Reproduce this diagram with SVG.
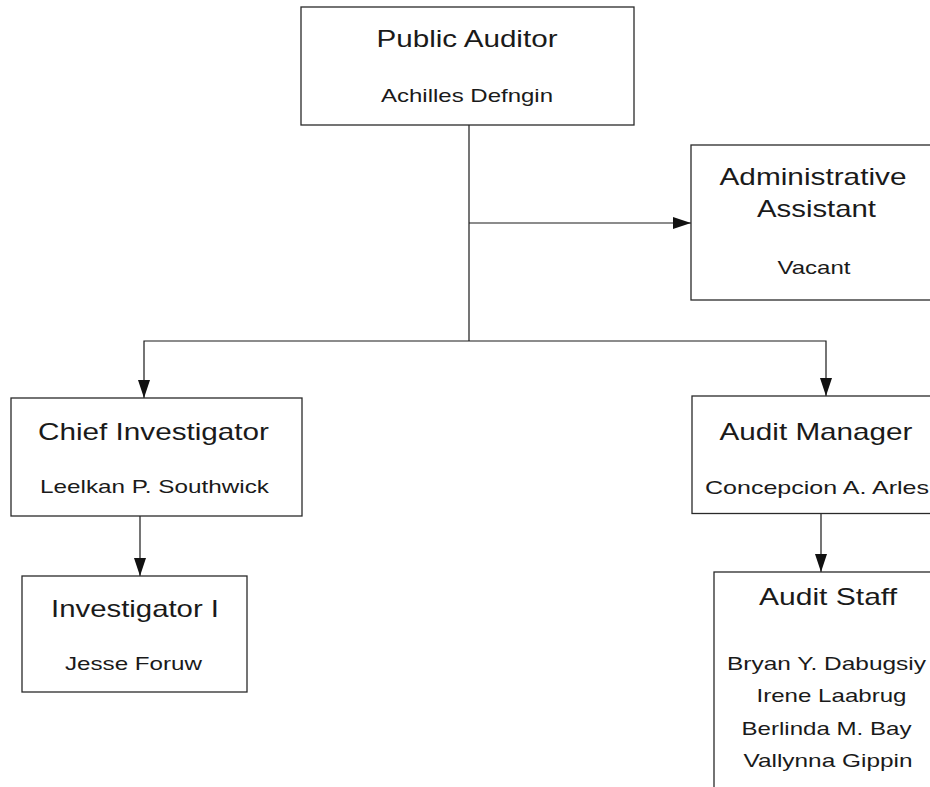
<svg xmlns="http://www.w3.org/2000/svg" width="930" height="787" viewBox="0 0 930 787">
<style>
  .box { fill: #ffffff; stroke: #2a2a2a; stroke-width: 1.3; }
  .conn { fill: none; stroke: #1a1a1a; stroke-width: 1.2; }
  .title { font-family: "Liberation Sans", Arial, sans-serif; font-size: 24px; fill: #1a1a1a; text-anchor: middle; }
  .name { font-family: "Liberation Sans", Arial, sans-serif; font-size: 19px; fill: #1a1a1a; text-anchor: middle; }
</style>
<defs>
  <marker id="arrow" markerUnits="userSpaceOnUse" markerWidth="18" markerHeight="12" refX="18" refY="6" orient="auto">
    <path d="M0,0 L18,6 L0,12 z" fill="#111111"/>
  </marker>
</defs>
<rect width="930" height="787" fill="#ffffff"/>
<g id="connectors">
  <path class="conn" d="M469,125 V341"/>
  <path class="conn" d="M469,223 H691" marker-end="url(#arrow)"/>
  <path class="conn" d="M469,341 H144 V398" marker-end="url(#arrow)"/>
  <path class="conn" d="M469,341 H826 V396" marker-end="url(#arrow)"/>
  <path class="conn" d="M140,516 V576" marker-end="url(#arrow)"/>
  <path class="conn" d="M821,513 V572" marker-end="url(#arrow)"/>
</g>
<g id="public-auditor">
  <rect class="box" x="301" y="7" width="333" height="118"/>
  <text class="title" x="467" y="47" textLength="181" lengthAdjust="spacingAndGlyphs">Public Auditor</text>
  <text class="name" x="467" y="102" textLength="172" lengthAdjust="spacingAndGlyphs">Achilles Defngin</text>
</g>
<g id="administrative-assistant">
  <rect class="box" x="691" y="145" width="250" height="155"/>
  <text class="title" x="813" y="185" textLength="187" lengthAdjust="spacingAndGlyphs">Administrative</text>
  <text class="title" x="816.5" y="216.5" textLength="119" lengthAdjust="spacingAndGlyphs">Assistant</text>
  <text class="name" x="814" y="274" textLength="73" lengthAdjust="spacingAndGlyphs">Vacant</text>
</g>
<g id="chief-investigator">
  <rect class="box" x="11" y="398" width="291" height="118"/>
  <text class="title" x="153.5" y="440" textLength="231" lengthAdjust="spacingAndGlyphs">Chief Investigator</text>
  <text class="name" x="154.5" y="493" textLength="229" lengthAdjust="spacingAndGlyphs">Leelkan P. Southwick</text>
</g>
<g id="investigator-i">
  <rect class="box" x="22" y="576" width="225" height="116"/>
  <text class="title" x="135" y="617" textLength="168" lengthAdjust="spacingAndGlyphs">Investigator I</text>
  <text class="name" x="133.5" y="670" textLength="137" lengthAdjust="spacingAndGlyphs">Jesse Foruw</text>
</g>
<g id="audit-manager">
  <rect class="box" x="692" y="396" width="250" height="117.5"/>
  <text class="title" x="816" y="440" textLength="193" lengthAdjust="spacingAndGlyphs">Audit Manager</text>
  <text class="name" x="817" y="494" textLength="224" lengthAdjust="spacingAndGlyphs">Concepcion A. Arles</text>
</g>
<g id="audit-staff">
  <rect class="box" x="714" y="572" width="250" height="230"/>
  <text class="title" x="828" y="605" textLength="138" lengthAdjust="spacingAndGlyphs">Audit Staff</text>
  <text class="name" x="826.5" y="670" textLength="199" lengthAdjust="spacingAndGlyphs">Bryan Y. Dabugsiy</text>
  <text class="name" x="831.5" y="702" textLength="150" lengthAdjust="spacingAndGlyphs">Irene Laabrug</text>
  <text class="name" x="826.5" y="735" textLength="170" lengthAdjust="spacingAndGlyphs">Berlinda M. Bay</text>
  <text class="name" x="828" y="767" textLength="169" lengthAdjust="spacingAndGlyphs">Vallynna Gippin</text>
</g>
</svg>
